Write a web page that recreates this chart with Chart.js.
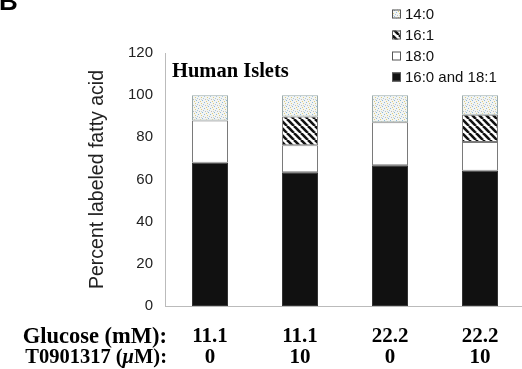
<!DOCTYPE html>
<html>
<head>
<meta charset="utf-8">
<script src="https://cdn.jsdelivr.net/npm/chart.js@4"></script>
<style>
html,body{margin:0;padding:0;background:#fff;overflow:hidden;}
#wrap{position:relative;width:525px;height:369px;}
</style>
</head>
<body>
<div id="wrap"><canvas id="c"></canvas></div>
<script>
// ---- data ----
const glucose = ['11.1', '11.1', '22.2', '22.2'];
const t0901317 = ['0', '10', '0', '10'];
const fa_16_0_18_1 = [68, 63.4, 66.7, 64.1];
const fa_18_0 = [20, 12.8, 20.4, 13.7];
const fa_16_1 = [null, 13.7, null, 12.9];
const fa_14_0 = [12, 10.1, 12.9, 9.3];
const yTicks = [0, 20, 40, 60, 80, 100, 120];

const labels = glucose.map((g, i) => [g, t0901317[i]]);

function makeStipple() {
  const c = document.createElement('canvas');
  c.width = 6; c.height = 6;
  const x = c.getContext('2d');
  x.fillStyle = '#f2f4f2'; x.fillRect(0, 0, 6, 6);
  const dots = [[0,0,'#8fbad6'],[3,1,'#dccd7e'],[1,3,'#bdbdbd'],[4,4,'#8fbad6'],[2,5,'#dccd7e'],[5,2,'#a9c6dc'],[3,3,'#d0d6d0']];
  dots.forEach(d => { x.fillStyle = d[2]; x.fillRect(d[0], d[1], 1, 1); });
  return x.createPattern(c, 'repeat');
}
function makeHatch() {
  const s = 7;
  const c = document.createElement('canvas');
  c.width = s; c.height = s;
  const x = c.getContext('2d');
  x.fillStyle = '#fff'; x.fillRect(0, 0, s, s);
  x.strokeStyle = '#111'; x.lineWidth = 2.6;
  for (const o of [-s, 0, s]) {
    x.beginPath(); x.moveTo(o, 0); x.lineTo(o + s, s); x.stroke();
  }
  return x.createPattern(c, 'repeat');
}
const stipple = makeStipple();
const hatch = makeHatch();

const legendItems = [
  { text: '14:0', fill: stipple },
  { text: '16:1', fill: hatch },
  { text: '18:0', fill: '#fff' },
  { text: '16:0 and 18:1', fill: '#111' }
];

const extras = {
  id: 'extras',
  afterDraw(chart) {
    const ctx = chart.ctx;
    ctx.save();
    // panel letter
    ctx.fillStyle = '#000';
    ctx.font = 'bold 26px "Liberation Sans", Arial, sans-serif';
    ctx.textAlign = 'left'; ctx.textBaseline = 'alphabetic';
    ctx.fillText('B', -1, 10);
    // Human Islets
    ctx.font = 'bold 20.5px "Liberation Serif", "Times New Roman", serif';
    ctx.textBaseline = 'middle';
    ctx.fillText('Human Islets', 172, 72);
    // legend
    const ys = [14, 35, 56, 77];
    ctx.font = '15px "Liberation Sans", Arial, sans-serif';
    legendItems.forEach((it, i) => {
      const y = ys[i];
      ctx.fillStyle = it.fill;
      ctx.fillRect(392, y - 4.5, 9, 9);
      ctx.strokeStyle = '#555'; ctx.lineWidth = 1;
      ctx.strokeRect(392.5, y - 4, 8, 8);
      ctx.fillStyle = '#111';
      ctx.textBaseline = 'middle';
      ctx.fillText(it.text, 405, y + 1);
    });
    // row labels
    const serifB = 'bold 20.5px "Liberation Serif", "Times New Roman", serif';
    const serifBI = 'italic bold 20.5px "Liberation Serif", "Times New Roman", serif';
    const rx = 167;
    ctx.fillStyle = '#000';
    ctx.font = 'bold 22.5px "Liberation Serif", "Times New Roman", serif';
    ctx.textAlign = 'right';
    ctx.fillText('Glucose (mM):', rx, 337);
    ctx.textAlign = 'left';
    const p1 = 'T0901317 (', p2 = '\u03bc', p3 = 'M):';
    ctx.font = serifB; const w1 = ctx.measureText(p1).width, w3 = ctx.measureText(p3).width;
    ctx.font = serifBI; const w2 = ctx.measureText(p2).width;
    let x0 = rx - (w1 + w2 + w3);
    ctx.font = serifB; ctx.fillText(p1, x0, 358);
    ctx.font = serifBI; ctx.fillText(p2, x0 + w1, 358);
    ctx.font = serifB; ctx.fillText(p3, x0 + w1 + w2, 358);
    ctx.restore();
  }
};

const border = '#7a7a7a';
new Chart(document.getElementById('c'), {
  type: 'bar',
  data: {
    labels: labels,
    datasets: [
      { label: '16:0 and 18:1', data: fa_16_0_18_1, backgroundColor: '#111', borderColor: '#333', borderWidth: 1 },
      { label: '18:0', data: fa_18_0, backgroundColor: '#fff', borderColor: border, borderWidth: 1 },
      { label: '16:1', data: fa_16_1, backgroundColor: hatch, borderColor: border, borderWidth: 1 },
      { label: '14:0', data: fa_14_0, backgroundColor: stipple, borderColor: '#9aa', borderWidth: 1 }
    ]
  },
  options: {
    responsive: true,
    maintainAspectRatio: false,
    animation: false,
    events: [],
    layout: { padding: { left: 84, top: 53, right: 0, bottom: 0 } },
    datasets: { bar: { barPercentage: 0.4, categoryPercentage: 1, borderSkipped: false } },
    plugins: { legend: { display: false }, tooltip: { enabled: false } },
    scales: {
      x: {
        stacked: true,
        grid: { display: false, drawTicks: false },
        border: { display: true, color: '#bbb', width: 1 },
        ticks: {
          padding: 20,
          color: '#000',
          font: { family: '"Liberation Serif", "Times New Roman", serif', size: 21, weight: 'bold', lineHeight: '21px' },
          maxRotation: 0, autoSkip: false
        },
        afterFit(s) { s.height = 63; }
      },
      y: {
        stacked: true,
        min: 0, max: 120,
        afterBuildTicks(s) { s.ticks = yTicks.map(v => ({ value: v })); },
        grid: { display: false, drawTicks: false },
        border: { display: true, color: '#bbb', width: 1 },
        ticks: {
          padding: 12,
          color: '#222',
          font: { family: '"Liberation Sans", Arial, sans-serif', size: 15 }
        },
        title: {
          display: true,
          text: 'Percent labeled fatty acid',
          color: '#222',
          font: { family: '"Liberation Sans", Arial, sans-serif', size: 19.5 },
          padding: { top: 2, bottom: 4 }
        },
        afterFit(s) { s.width = 81; }
      }
    }
  },
  plugins: [extras]
});
</script>
</body>
</html>
